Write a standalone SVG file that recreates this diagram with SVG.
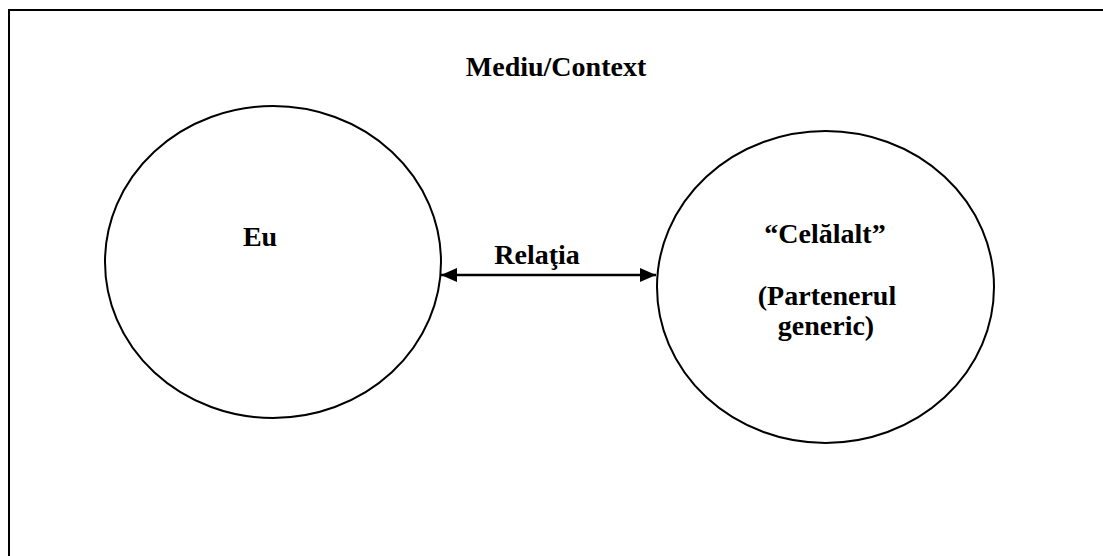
<svg xmlns="http://www.w3.org/2000/svg" width="1103" height="556" viewBox="0 0 1103 556">
<style>
.t{font-family:"Liberation Serif","Times New Roman",serif;font-weight:bold;font-size:28px;fill:#000;text-anchor:middle}
.s{fill:none;stroke:#000;stroke-width:2}
</style>
<defs>
<marker id="ah" viewBox="0 0 16 14" refX="16" refY="7" markerWidth="16" markerHeight="14" markerUnits="userSpaceOnUse" orient="auto-start-reverse">
<path d="M0,0 L16,7 L0,14 z" fill="#000"/>
</marker>
</defs>
<rect width="1103" height="556" fill="#fff"/>
<g id="frame">
<rect x="9" y="10" width="1110" height="560" fill="none" stroke="#000" stroke-width="2"/>
<text class="t" x="556" y="76">Mediu/Context</text>
</g>
<g id="eu">
<ellipse class="s" cx="273" cy="262" rx="168" ry="156"/>
<text class="t" x="260" y="246">Eu</text>
</g>
<g id="celalalt">
<ellipse class="s" cx="825.5" cy="287" rx="168.5" ry="156"/>
<text class="t" x="825" y="243">“Celălalt”</text>
<text class="t" x="827" y="305">(Partenerul</text>
<text class="t" x="826" y="335">generic)</text>
</g>
<g id="connectors">
<line x1="441" y1="275" x2="656" y2="275" stroke="#000" stroke-width="2.5" marker-start="url(#ah)" marker-end="url(#ah)"/>
<text class="t" x="537" y="264">Relaţia</text>
</g>
</svg>
